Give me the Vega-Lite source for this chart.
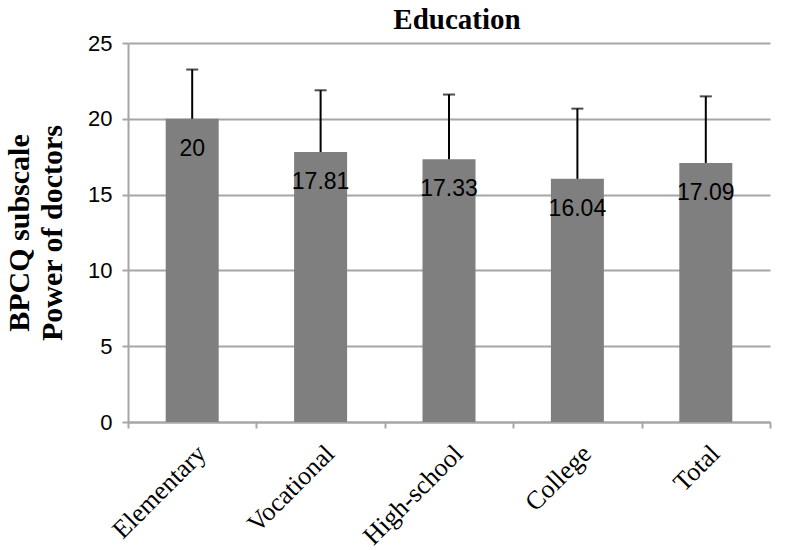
{
  "$schema": "https://vega.github.io/schema/vega-lite/v6.json",
  "width": 642,
  "height": 379,
  "autosize": {"type": "none"},
  "padding": {"left": 128, "top": 43, "right": 16, "bottom": 128},
  "background": "white",
  "title": {"text": "Education", "font": "Liberation Serif", "fontSize": 29, "fontWeight": "bold", "color": "black", "offset": 14, "dy": 17, "dx": 8, "anchor": "middle"},
  "config": {"view": {"stroke": null}},
  "data": {"values": [
    {"edu": "Elementary", "mean": 20, "upper": 23.25, "label": "20"},
    {"edu": "Vocational", "mean": 17.81, "upper": 21.88, "label": "17.81"},
    {"edu": "High-school", "mean": 17.33, "upper": 21.6, "label": "17.33"},
    {"edu": "College", "mean": 16.04, "upper": 20.67, "label": "16.04"},
    {"edu": "Total", "mean": 17.09, "upper": 21.48, "label": "17.09"}
  ]},
  "encoding": {
    "x": {"field": "edu", "type": "nominal", "sort": null,
      "scale": {"paddingInner": 0, "paddingOuter": 0},
      "axis": {"title": null, "labelAngle": -45, "labelFont": "Liberation Serif", "labelFontSize": 26, "labelColor": "black",
        "domainColor": "#a6a6a6", "domainWidth": 2, "tickColor": "#a6a6a6", "tickWidth": 2, "tickSize": 6, "tickBand": "extent",
        "labelPadding": 12, "grid": false}}
  },
  "layer": [
    {"mark": {"type": "bar", "width": 53, "color": "#7f7f7f"},
     "encoding": {"y": {"field": "mean", "type": "quantitative",
       "scale": {"domain": [0, 25], "nice": false},
       "axis": {"values": [0, 5, 10, 15, 20, 25], "title": ["BPCQ subscale", "Power of doctors"], "titleFont": "Liberation Serif", "titleFontSize": 30, "titleLineHeight": 33, "titleFontWeight": "bold", "titleColor": "black", "titlePadding": 20,
         "labelFont": "Liberation Sans", "labelFontSize": 22, "labelColor": "black", "labelPadding": 10,
         "gridColor": "#a6a6a6", "gridWidth": 2, "domainColor": "#a6a6a6", "domainWidth": 2, "tickColor": "#a6a6a6", "tickWidth": 2, "tickSize": 6}}}},
    {"mark": {"type": "rule", "color": "black", "strokeWidth": 2},
     "encoding": {"y": {"field": "mean", "type": "quantitative", "scale": {"domain": [0, 25], "nice": false}}, "y2": {"field": "upper"}}},
    {"mark": {"type": "tick", "color": "black", "thickness": 2, "size": 12},
     "encoding": {"y": {"field": "upper", "type": "quantitative", "scale": {"domain": [0, 25], "nice": false}}}},
    {"mark": {"type": "text", "dy": 30, "baseline": "middle", "font": "Liberation Sans", "fontSize": 23, "color": "black"},
     "encoding": {"y": {"field": "mean", "type": "quantitative", "scale": {"domain": [0, 25], "nice": false}}, "text": {"field": "label"}}}
  ]
}
